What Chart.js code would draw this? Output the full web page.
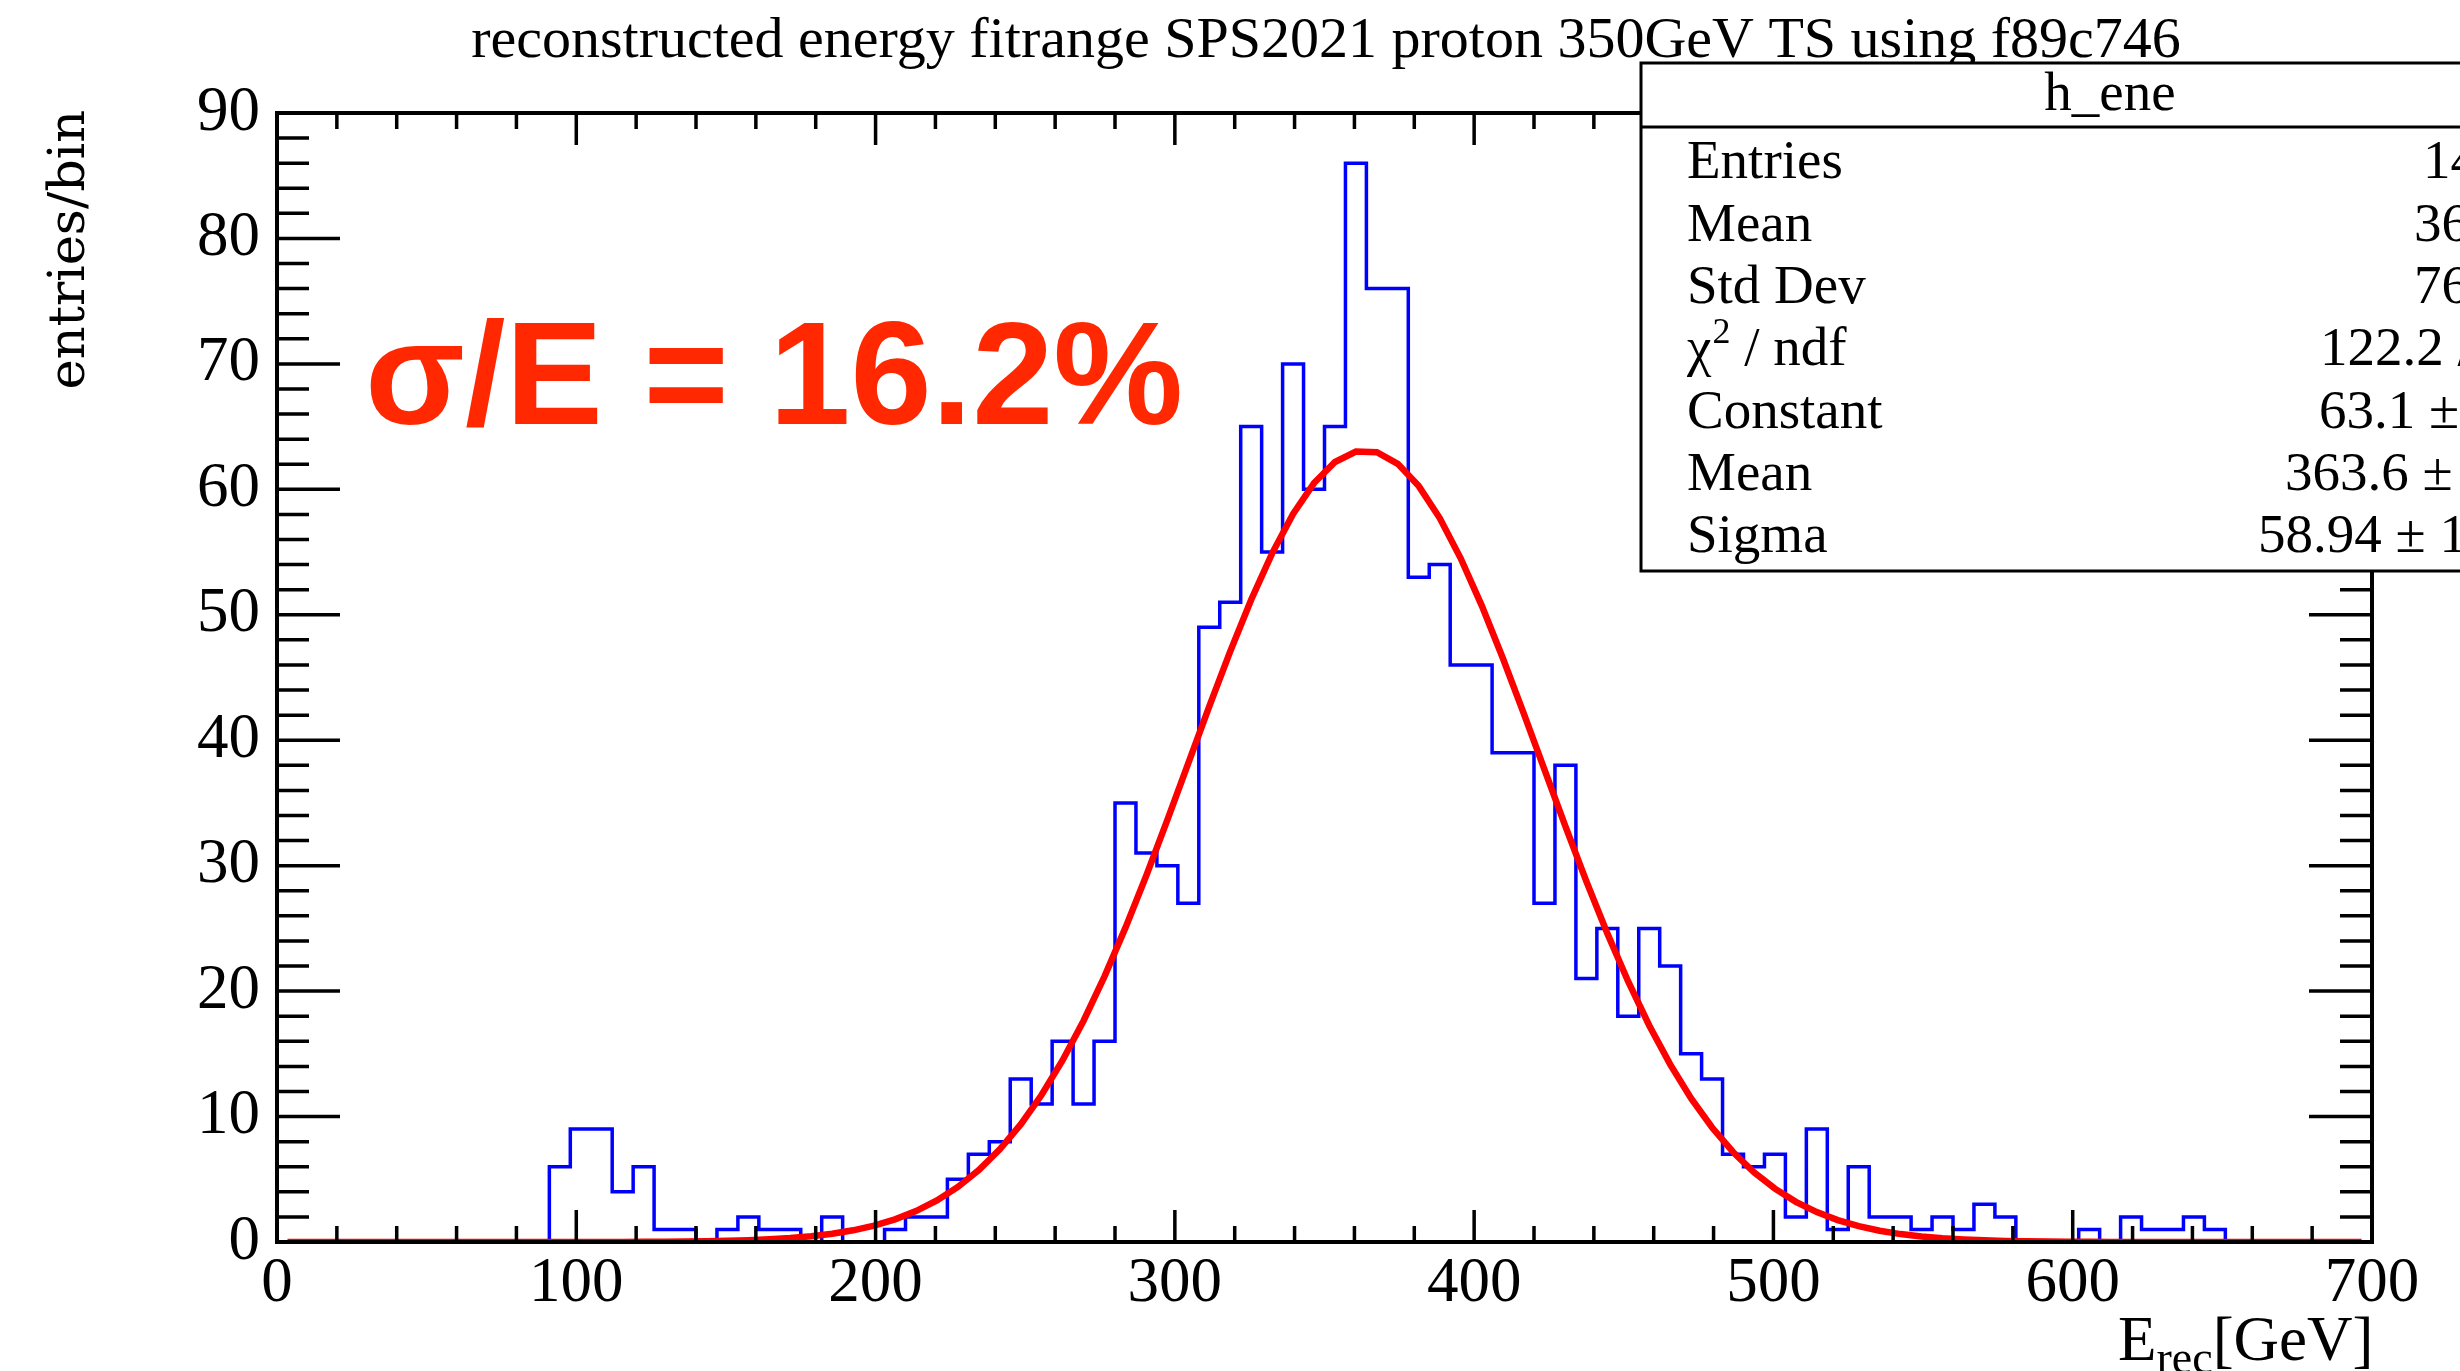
<!DOCTYPE html>
<html>
<head>
<meta charset="utf-8">
<script src="https://cdn.jsdelivr.net/npm/chart.js@4.4.1/dist/chart.umd.min.js"></script>
<style>
html,body{margin:0;padding:0;background:#fff;overflow:hidden}
canvas{display:block}
</style>
</head>
<body>
<canvas id="c" width="2460" height="1371"></canvas>
<script>
// ---------------- data ----------------
const chartTitle = "reconstructed energy fitrange SPS2021 proton 350GeV TS using f89c746";
const yAxisTitle = "entries/bin";
const xAxisTitleMain = "E";
const xAxisTitleSub = "rec";
const xAxisTitleUnit = "[GeV]";
const annotationText = "\u03C3/E = 16.2%";

// histogram bin edges (GeV), 100 bins of 7 GeV
const binEdges = [0,7,14,21,28,35,42,49,56,63,70,77,84,91,98,105,112,119,126,133,140,147,154,161,168,175,182,189,196,203,210,217,224,231,238,245,252,259,266,273,280,287,294,301,308,315,322,329,336,343,350,357,364,371,378,385,392,399,406,413,420,427,434,441,448,455,462,469,476,483,490,497,504,511,518,525,532,539,546,553,560,567,574,581,588,595,602,609,616,623,630,637,644,651,658,665,672,679,686,693,700];

// entries per bin
const binEntries = [0,0,0,0,0,0,0,0,0,0,0,0,0,6,9,9,4,6,1,1,0,1,2,1,1,0,2,0,0,1,2,2,5,7,8,13,11,16,11,16,35,31,30,27,49,51,65,55,70,60,65,86,76,76,53,54,46,46,39,39,27,38,21,25,18,25,22,15,13,7,6,7,2,9,1,6,2,2,1,2,1,3,2,0,0,0,1,0,2,1,1,2,1,0,0,0,0,0,0,0];

const fitX = [3.5,10.5,17.5,24.5,31.5,38.5,45.5,52.5,59.5,66.5,73.5,80.5,87.5,94.5,101.5,108.5,115.5,122.5,129.5,136.5,143.5,150.5,157.5,164.5,171.5,178.5,185.5,192.5,199.5,206.5,213.5,220.5,227.5,234.5,241.5,248.5,255.5,262.5,269.5,276.5,283.5,290.5,297.5,304.5,311.5,318.5,325.5,332.5,339.5,346.5,353.5,360.5,367.5,374.5,381.5,388.5,395.5,402.5,409.5,416.5,423.5,430.5,437.5,444.5,451.5,458.5,465.5,472.5,479.5,486.5,493.5,500.5,507.5,514.5,521.5,528.5,535.5,542.5,549.5,556.5,563.5,570.5,577.5,584.5,591.5,598.5,605.5,612.5,619.5,626.5,633.5,640.5,647.5,654.5,661.5,668.5,675.5,682.5,689.5,696.5];
const fitY = [0,0,0,0,0,0,0,0,0,0,0,0,0,0.002,0.003,0.005,0.009,0.015,0.024,0.038,0.059,0.092,0.140,0.210,0.311,0.455,0.657,0.933,1.309,1.809,2.464,3.311,4.387,5.731,7.382,9.374,11.738,14.492,17.641,21.175,25.060,29.242,33.645,38.168,42.693,47.085,51.203,54.900,58.040,60.500,62.181,63.013,62.962,62.030,60.256,57.713,54.503,50.751,46.595,42.180,37.649,33.133,28.751,24.600,20.752,17.262,14.157,11.448,9.128,7.176,5.563,4.251,3.204,2.381,1.744,1.260,0.897,0.630,0.436,0.298,0.201,0.133,0.087,0.056,0.036,0.022,0.014,0.009,0.005,0.003,0,0,0,0,0,0,0,0,0,0];

// axis ranges and tick steps
const xRange = [0, 700];
const yRange = [0, 90];
const xMajorStep = 100, xMinorStep = 20;
const yMajorStep = 10, yMinorStep = 2;

// statistics box
const statsName = "h_ene";
const statsLabels = ["Entries", "Mean", "Std Dev", "CHI2", "Constant", "Mean", "Sigma"];
const statsValues = ["14", "36", "76", "122.2 /", "63.1 \u00B1", "363.6 \u00B1", "58.94 \u00B1 1"];

// ---------------- build datasets ----------------
const histPoints = binEntries.map((v, i) => ({x: binEdges[i], y: v}));
histPoints.push({x: binEdges[binEdges.length - 1], y: binEntries[binEntries.length - 1]});
const fitPoints = fitX.map((x, i) => ({x: x, y: fitY[i]}));

const SERIF = '"Liberation Serif", "Times New Roman", serif';

const rootStyle = {
  id: 'rootStyle',
  beforeDraw(chart) {
    const c = chart.ctx;
    c.save();
    c.fillStyle = '#fff';
    c.fillRect(0, 0, chart.width, chart.height);
    c.restore();
  },
  afterDatasetsDraw(chart) {
    const c = chart.ctx, a = chart.chartArea, xs = chart.scales.x, ys = chart.scales.y;
    c.save();
    c.strokeStyle = '#000';
    c.lineCap = 'butt';
    // ticks
    c.lineWidth = 3.5;
    c.beginPath();
    for (let v = xRange[0]; v <= xRange[1] + 1e-9; v += xMinorStep) {
      const px = xs.getPixelForValue(v);
      const major = Math.abs(v / xMajorStep - Math.round(v / xMajorStep)) < 1e-6;
      const len = major ? 32 : 16;
      c.moveTo(px, a.bottom); c.lineTo(px, a.bottom - len);
      c.moveTo(px, a.top); c.lineTo(px, a.top + len);
    }
    for (let v = yRange[0]; v <= yRange[1] + 1e-9; v += yMinorStep) {
      const py = ys.getPixelForValue(v);
      const major = Math.abs(v / yMajorStep - Math.round(v / yMajorStep)) < 1e-6;
      const len = major ? 63 : 32;
      c.moveTo(a.left, py); c.lineTo(a.left + len, py);
      c.moveTo(a.right, py); c.lineTo(a.right - len, py);
    }
    c.stroke();
    // frame
    c.lineWidth = 4;
    c.strokeRect(a.left, a.top, a.right - a.left, a.bottom - a.top);
    c.restore();
  },
  afterDraw(chart) {
    const c = chart.ctx, a = chart.chartArea;
    c.save();
    c.fillStyle = '#000';
    // title
    c.font = '58px ' + SERIF;
    c.textAlign = 'center';
    c.textBaseline = 'alphabetic';
    c.fillText(chartTitle, 1326, 57);

    // y axis title
    c.save();
    c.translate(84, a.top - 3);
    c.rotate(-Math.PI / 2);
    c.font = '51px "DejaVu Serif", serif';
    c.textAlign = 'right';
    c.fillText(yAxisTitle, 0, 0);
    c.restore();

    // x axis title with subscript
    c.textAlign = 'left';
    let xx = 2118;
    c.font = '63px ' + SERIF;
    c.fillText(xAxisTitleMain, xx, 1360);
    xx += c.measureText(xAxisTitleMain).width;
    c.font = '46px ' + SERIF;
    c.fillText(xAxisTitleSub, xx, 1373);
    xx += c.measureText(xAxisTitleSub).width;
    c.font = '63px ' + SERIF;
    c.fillText(xAxisTitleUnit, xx, 1360);

    // annotation
    c.fillStyle = '#ff2800';
    c.font = 'bold 146px "Liberation Sans", Arial, sans-serif';
    c.fillText(annotationText, 365, 424);

    // stats box
    const bx = 1641, by = 63, bw = 1000, bh = 571 - 63;
    c.fillStyle = '#fff';
    c.fillRect(bx, by, bw, bh);
    c.strokeStyle = '#000';
    c.lineWidth = 3;
    c.strokeRect(bx, by, bw, bh);
    c.beginPath();
    c.moveTo(bx, 127); c.lineTo(bx + bw, 127);
    c.stroke();
    c.fillStyle = '#000';
    c.font = '55px ' + SERIF;
    c.textAlign = 'center';
    c.fillText(statsName, 2110, 110);
    c.textAlign = 'left';
    const valueX = [2423, 2414, 2414, 2320, 2319, 2285, 2258];
    for (let i = 0; i < statsLabels.length; i++) {
      const yb = 178.3 + i * 62.3;
      c.font = '55px ' + SERIF;
      if (statsLabels[i] === 'CHI2') {
        let lx = 1687;
        c.fillText('\u03C7', lx, yb);
        lx += c.measureText('\u03C7').width;
        c.font = '36px ' + SERIF;
        c.fillText('2', lx + 1, yb - 22);
        lx += c.measureText('2').width + 1;
        c.font = '55px ' + SERIF;
        c.fillText(' / ndf', lx, yb);
      } else {
        c.fillText(statsLabels[i], 1687, yb);
      }
      c.fillText(statsValues[i], valueX[i], yb);
    }
    c.restore();
  }
};

new Chart(document.getElementById('c').getContext('2d'), {
  type: 'line',
  data: {
    datasets: [
      {label: 'fit', data: fitPoints, borderColor: '#ff0000', borderWidth: 6.5, pointRadius: 0, tension: 0, fill: false, order: 0},
      {label: statsName, data: histPoints, stepped: 'before', borderColor: '#0000ff', borderWidth: 3.5, pointRadius: 0, fill: false, order: 1}
    ]
  },
  options: {
    responsive: false,
    animation: false,
    devicePixelRatio: 1,
    events: [],
    layout: {padding: {top: 113, right: 88, left: 0, bottom: 0}},
    plugins: {legend: {display: false}, title: {display: false}, tooltip: {enabled: false}},
    scales: {
      x: {
        type: 'linear', min: xRange[0], max: xRange[1],
        afterFit(s) { s.height = 129; },
        grid: {display: false, drawTicks: false},
        border: {display: false},
        ticks: {stepSize: xMajorStep, autoSkip: false, maxRotation: 0, padding: 5, color: '#000',
                font: {family: SERIF, size: 63}}
      },
      y: {
        type: 'linear', min: yRange[0], max: yRange[1],
        afterFit(s) { s.width = 277; },
        grid: {display: false, drawTicks: false},
        border: {display: false},
        ticks: {stepSize: yMajorStep, padding: 17, color: '#000',
                font: {family: SERIF, size: 63}}
      }
    }
  },
  plugins: [rootStyle]
});
</script>
</body>
</html>
